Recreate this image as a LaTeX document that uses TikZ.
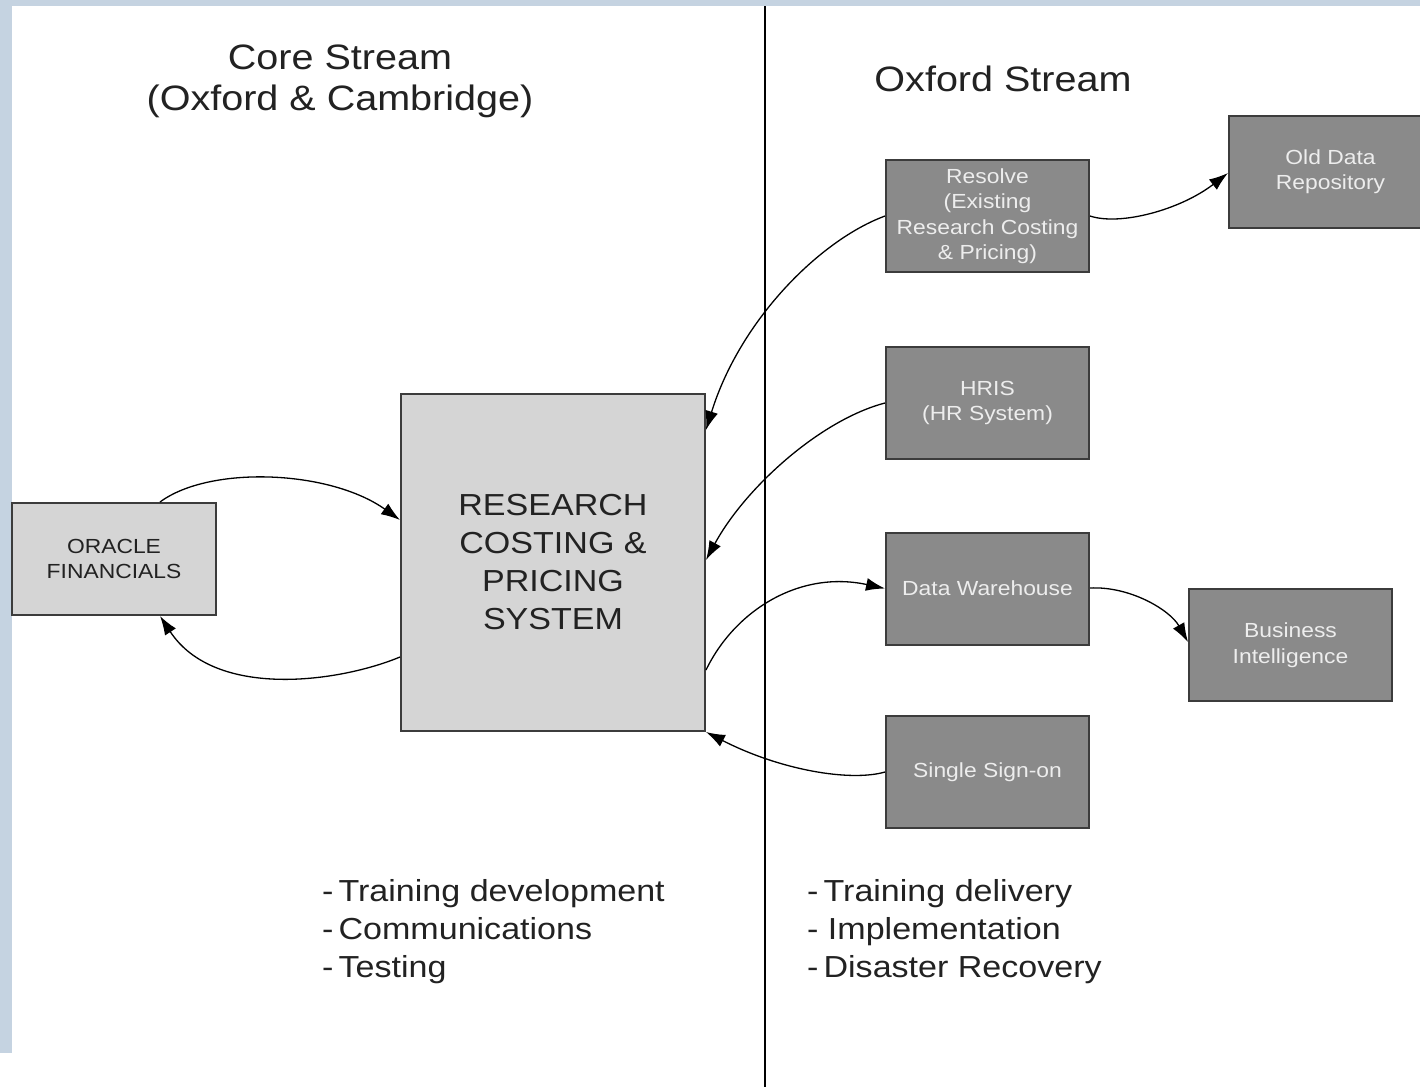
\documentclass[tikz,border=0pt]{standalone}
\usepackage{fontspec}
\setmainfont{Liberation Sans}[FakeStretch=1.12]
\usetikzlibrary{arrows.meta,calc}
\definecolor{bgstrip}{HTML}{C5D3E1}
\definecolor{lightbox}{HTML}{D5D5D5}
\definecolor{darkbox}{HTML}{8A8A8A}
\definecolor{boxline}{HTML}{3C3C3C}
\definecolor{boxtext}{HTML}{EDEDED}
\definecolor{inktext}{HTML}{222222}
\begin{document}
\begin{tikzpicture}[x=1pt,y=-1pt,
  lightnode/.style={draw=boxline, line width=2pt, fill=lightbox, text=inktext, align=center, inner sep=0pt},
  darknode/.style={draw=boxline, line width=2pt, fill=darkbox, text=boxtext, align=center, inner sep=0pt,
    minimum width=203pt, minimum height=112pt, font=\fontsize{20.4}{25.5}\selectfont},
  flow/.style={line width=1.3pt, -{Latex[length=19pt,width=13pt]}},
  headtext/.style={font=\fontsize{35.3}{44}\selectfont, text=inktext, inner sep=0pt},
  listitem/.style={font=\fontsize{30.4}{38}\selectfont, text=inktext, anchor=base west, inner sep=0pt}
]
\useasboundingbox (0,0) rectangle (1420,1087);
\fill[white] (0,0) rectangle (1420,1087);
\fill[bgstrip] (0,0) rectangle (1420,6);
\fill[bgstrip] (0,0) rectangle (12,1053);
\coordinate (septop) at (765,6);
\coordinate (sepbot) at (765,1087);
\draw[line width=1.8pt] (septop) -- (sepbot);

% titles
\node[headtext] (coreA) at (340,57) {Core Stream};
\node[headtext] (coreB) at (340,101) {(Oxford \& Cambridge)};
\node[headtext] (oxf) at (1003,79) {Oxford Stream};

% boxes
\node[lightnode, minimum width=204pt, minimum height=112pt, font=\fontsize{20.4}{25}\selectfont] (oracle) at (114,559) {ORACLE\\FINANCIALS};
\node[lightnode, minimum width=304pt, minimum height=337pt, font=\fontsize{30.4}{38}\selectfont] (rcps) at (553,562.5) {RESEARCH\\COSTING \&\\PRICING\\SYSTEM};
\node[darknode] (resolve) at (987.5,216) {Resolve\\(Existing\\Research Costing\\\& Pricing)};
\node[darknode] (olddata) at (1330.5,171.5) {Old Data\\Repository};
\node[darknode] (hris) at (987.5,403) {HRIS\\(HR System)};
\node[darknode] (dw) at (987.5,588.5) {Data Warehouse};
\node[darknode] (bi) at (1290.5,645) {Business\\Intelligence};
\node[darknode] (sso) at (987.5,772) {Single Sign-on};

% connectors
\draw[flow] ($(oracle.north)+(46,0)$) .. controls (210,465) and (330,470) .. ($(rcps.west)+(0,-42.5)$);
\draw[flow] ($(rcps.west)+(0,94.5)$) .. controls (340,682) and (215,700) .. ($(oracle.south)+(46,0)$);
\draw[flow] (resolve.west) .. controls (820,240) and (740,320) .. ($(rcps.east)+(0,-132.5)$);
\draw[flow] (hris.west) .. controls (820,420) and (745,488) .. ($(rcps.east)+(0,-2.5)$);
\draw[flow] ($(rcps.east)+(0,107.5)$) .. controls (735,610) and (800,570) .. (dw.west);
\draw[flow] (sso.west) .. controls (850,782) and (780,770) .. (rcps.south east);
\draw[flow] (resolve.east) .. controls (1120,226) and (1180,210) .. ($(olddata.west)+(0,1.5)$);
\draw[flow] ($(dw.east)+(0,-0.5)$) .. controls (1130,586) and (1170,610) .. ($(bi.west)+(0,-3)$);

% lists
\node[listitem] (l1) at (322,901) {-\,Training development};
\node[listitem] (l2) at (322,939) {-\,Communications};
\node[listitem] (l3) at (322,977) {-\,Testing};
\node[listitem] (r1) at (807,901) {-\,Training delivery};
\node[listitem] (r2) at (807,939) {- Implementation};
\node[listitem] (r3) at (807,977) {-\,Disaster Recovery};
\end{tikzpicture}
\end{document}
